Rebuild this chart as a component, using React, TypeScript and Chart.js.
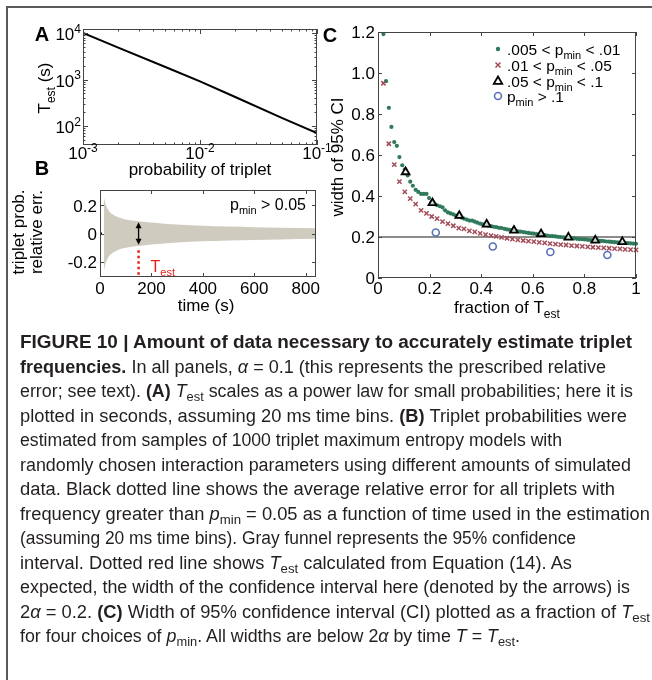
import React, { useEffect, useRef } from "react";
import { Chart, registerables } from "chart.js";
Chart.register(...registerables);

const FONT = '"Liberation Sans", Arial, Helvetica, sans-serif';
const CAPFONT = '"Liberation Sans Narrow", "Liberation Sans", Arial, sans-serif';

// ---------- Panel A data ----------
const probA = [0.001, 0.002, 0.005, 0.01, 0.02, 0.05, 0.1];
const testA = [10000, 4860, 1880, 910, 420, 150, 70];
const aXTicks = [0.001, 0.01, 0.1];
const aXExp = ["-3", "-2", "-1"];
const aYTicks = [100, 1000, 10000];
const aYExp = ["2", "3", "4"];

// ---------- Panel B data ----------
const timeB = [15, 20, 25, 30, 40, 50, 60, 80, 100, 125, 150, 200, 250, 300, 400, 500, 600, 700, 840];
const upperB = [0.26, 0.22, 0.195, 0.175, 0.15, 0.135, 0.125, 0.11, 0.1, 0.093, 0.088, 0.078, 0.07, 0.064, 0.055, 0.049, 0.045, 0.041, 0.037];
const lowerB = [-0.27, -0.225, -0.197, -0.177, -0.152, -0.137, -0.126, -0.111, -0.101, -0.094, -0.089, -0.079, -0.071, -0.065, -0.056, -0.05, -0.046, -0.042, -0.038];
const zeroLineB = [0, 840];
const testTimeB = 150;
const arrowHalfB = 0.08;
const redDotsB = [-0.12, -0.3];
const bXTicks = [0, 200, 400, 600, 800];
const bYTicks = [-0.2, 0, 0.2];
const bYLabels = ["-0.2", "0", "0.2"];

// ---------- Panel C data ----------
const greenX = [0.021, 0.031, 0.042, 0.052, 0.063, 0.073, 0.083, 0.094, 0.104, 0.115, 0.125, 0.135, 0.146, 0.156, 0.167, 0.177, 0.188, 0.198, 0.208, 0.219, 0.229, 0.24, 0.25, 0.26, 0.271, 0.281, 0.292, 0.302, 0.313, 0.323, 0.333, 0.344, 0.354, 0.365, 0.375, 0.385, 0.396, 0.406, 0.417, 0.427, 0.438, 0.448, 0.458, 0.469, 0.479, 0.49, 0.5, 0.51, 0.521, 0.531, 0.542, 0.552, 0.563, 0.573, 0.583, 0.594, 0.604, 0.615, 0.625, 0.635, 0.646, 0.656, 0.667, 0.677, 0.688, 0.698, 0.708, 0.719, 0.729, 0.74, 0.75, 0.76, 0.771, 0.781, 0.792, 0.802, 0.813, 0.823, 0.833, 0.844, 0.854, 0.865, 0.875, 0.885, 0.896, 0.906, 0.917, 0.927, 0.938, 0.948, 0.958, 0.969, 0.979, 0.99, 1.0];
const greenY = [1.19, 0.96, 0.83, 0.737, 0.663, 0.645, 0.59, 0.55, 0.53, 0.5, 0.47, 0.45, 0.43, 0.42, 0.41, 0.41, 0.41, 0.39, 0.37, 0.36, 0.355, 0.35, 0.345, 0.33, 0.32, 0.315, 0.31, 0.305, 0.3, 0.295, 0.29, 0.285, 0.28, 0.28, 0.275, 0.27, 0.265, 0.262, 0.26, 0.255, 0.253, 0.25, 0.248, 0.245, 0.244, 0.24, 0.237, 0.235, 0.233, 0.23, 0.228, 0.226, 0.224, 0.222, 0.22, 0.218, 0.216, 0.214, 0.212, 0.21, 0.209, 0.207, 0.205, 0.204, 0.203, 0.201, 0.2, 0.198, 0.197, 0.195, 0.194, 0.193, 0.191, 0.19, 0.189, 0.188, 0.186, 0.185, 0.184, 0.183, 0.182, 0.181, 0.18, 0.178, 0.177, 0.176, 0.175, 0.174, 0.173, 0.172, 0.171, 0.17, 0.169, 0.168, 0.167];
const redX = [0.021, 0.042, 0.063, 0.083, 0.104, 0.125, 0.146, 0.167, 0.188, 0.208, 0.229, 0.25, 0.271, 0.292, 0.313, 0.333, 0.354, 0.375, 0.396, 0.417, 0.438, 0.458, 0.479, 0.5, 0.521, 0.542, 0.563, 0.583, 0.604, 0.625, 0.646, 0.667, 0.688, 0.708, 0.729, 0.75, 0.771, 0.792, 0.813, 0.833, 0.854, 0.875, 0.896, 0.917, 0.938, 0.958, 0.979, 1.0];
const redY = [0.95, 0.655, 0.553, 0.47, 0.42, 0.387, 0.36, 0.33, 0.315, 0.3, 0.29, 0.275, 0.265, 0.255, 0.243, 0.24, 0.23, 0.225, 0.218, 0.212, 0.207, 0.203, 0.198, 0.194, 0.19, 0.186, 0.183, 0.18, 0.177, 0.174, 0.171, 0.168, 0.165, 0.163, 0.161, 0.158, 0.156, 0.154, 0.152, 0.15, 0.148, 0.147, 0.145, 0.143, 0.142, 0.14, 0.138, 0.137];
const triX = [0.107, 0.211, 0.315, 0.421, 0.527, 0.632, 0.738, 0.842, 0.947];
const triY = [0.517, 0.366, 0.304, 0.262, 0.232, 0.215, 0.198, 0.184, 0.176];
const circX = [0.224, 0.445, 0.668, 0.889];
const circY = [0.222, 0.154, 0.127, 0.112];
const refLineC = 0.2;
const cXTicks = [0, 0.2, 0.4, 0.6, 0.8, 1];
const cXLabels = ["0", "0.2", "0.4", "0.6", "0.8", "1"];
const cYTicks = [0, 0.2, 0.4, 0.6, 0.8, 1.0, 1.2];
const cYLabels = ["0", "0.2", "0.4", "0.6", "0.8", "1.0", "1.2"];
const legendC = [".005 < p|min| < .01", ".01 < p|min| < .05", ".05 < p|min| < .1", "p|min| > .1"];

const GREEN = "#2f7a5a";
const RED = "#a34c58";
const BLUE = "#5b6fb6";
const FUNNEL = "#cfccbf";
const AXIS = "#444";

type Part = { t: string; sub?: boolean; sup?: boolean; b?: boolean; i?: boolean; c?: string };

function partFont(p: Part, size: number) {
  const s = p.sub || p.sup ? Math.round(size * 0.68) : size;
  return `${p.i ? "italic " : ""}${p.b ? "bold " : ""}${s}px ${FONT}`;
}
function richWidth(ctx: CanvasRenderingContext2D, parts: Part[], size: number) {
  let w = 0;
  for (const p of parts) {
    ctx.font = partFont(p, size);
    w += ctx.measureText(p.t).width;
  }
  return w;
}
function drawRich(ctx: CanvasRenderingContext2D, parts: Part[], x: number, cy: number, align: string, size: number, color: string) {
  const w = richWidth(ctx, parts, size);
  let cx = align === "left" ? x : align === "center" ? x - w / 2 : x - w;
  const base = cy + size * 0.36;
  ctx.textAlign = "left";
  ctx.textBaseline = "alphabetic";
  for (const p of parts) {
    ctx.font = partFont(p, size);
    ctx.fillStyle = p.c || color;
    const dy = p.sub ? size * 0.28 : p.sup ? -size * 0.42 : 0;
    ctx.fillText(p.t, cx, base + dy);
    cx += ctx.measureText(p.t).width;
  }
}
function splitSub(s: string): Part[] {
  return s.split("|").map((t, i) => ({ t, sub: i % 2 === 1 }));
}
function drawRotated(ctx: CanvasRenderingContext2D, parts: Part[], x: number, y: number, size: number) {
  ctx.save();
  ctx.translate(x, y);
  ctx.rotate(-Math.PI / 2);
  drawRich(ctx, parts, 0, 0, "center", size, "#000");
  ctx.restore();
}
function drawBox(ctx: CanvasRenderingContext2D, a: any) {
  ctx.strokeStyle = AXIS;
  ctx.lineWidth = 1;
  ctx.strokeRect(Math.round(a.left) + 0.5, Math.round(a.top) + 0.5, Math.round(a.right - a.left) - 1, Math.round(a.bottom - a.top) - 1);
}
function tickX(ctx: CanvasRenderingContext2D, a: any, px: number, len: number) {
  const x = Math.round(px) + 0.5;
  ctx.beginPath();
  ctx.moveTo(x, a.bottom);
  ctx.lineTo(x, a.bottom - len);
  ctx.moveTo(x, a.top);
  ctx.lineTo(x, a.top + len);
  ctx.stroke();
}
function tickY(ctx: CanvasRenderingContext2D, a: any, py: number, len: number) {
  const y = Math.round(py) + 0.5;
  ctx.beginPath();
  ctx.moveTo(a.left, y);
  ctx.lineTo(a.left + len, y);
  ctx.moveTo(a.right, y);
  ctx.lineTo(a.right - len, y);
  ctx.stroke();
}

const baseOpts = (padding: any) => ({
  responsive: false,
  animation: false as const,
  devicePixelRatio: 1,
  events: [] as any[],
  layout: { padding },
  plugins: { legend: { display: false }, tooltip: { enabled: false }, title: { display: false } },
});

const H = 320;

function cfgA(): any {
  return {
    type: "line",
    data: {
      datasets: [
        {
          data: probA.map((p, i) => ({ x: p, y: testA[i] })),
          borderColor: "#000",
          borderWidth: 2,
          pointRadius: 0,
          fill: false,
        },
      ],
    },
    options: {
      ...baseOpts({ left: 83, top: 29, right: 652 - 317, bottom: H - 145 }),
      scales: {
        x: { type: "logarithmic", min: 0.001, max: 0.1, display: false },
        y: { type: "logarithmic", min: 39, max: 12200, display: false },
      },
    },
    plugins: [
      {
        id: "axesA",
        afterDraw(chart: any) {
          const { ctx, chartArea: a, scales } = chart;
          ctx.save();
          drawBox(ctx, a);
          for (let d = 0.001; d < 0.1; d *= 10) {
            for (let m = 2; m <= 9; m++) tickX(ctx, a, scales.x.getPixelForValue(d * m), 2.5);
          }
          aXTicks.forEach((v) => tickX(ctx, a, scales.x.getPixelForValue(v), 5));
          for (let d = 10; d <= 10000; d *= 10) {
            for (let m = 2; m <= 9; m++) {
              const v = d * m;
              if (v > 39 && v < 12200) tickY(ctx, a, scales.y.getPixelForValue(v), 2.5);
            }
          }
          aYTicks.forEach((v) => tickY(ctx, a, scales.y.getPixelForValue(v), 5));
          aXTicks.forEach((v, i) =>
            drawRich(ctx, [{ t: "10" }, { t: aXExp[i], sup: true }], scales.x.getPixelForValue(v), a.bottom + 8, "center", 17, "#000")
          );
          aYTicks.forEach((v, i) =>
            drawRich(ctx, [{ t: "10" }, { t: aYExp[i], sup: true }], a.left - 2, scales.y.getPixelForValue(v) + 1, "right", 17, "#000")
          );
          drawRich(ctx, [{ t: "probability of triplet" }], (a.left + a.right) / 2, 169, "center", 17, "#000");
          drawRotated(ctx, [{ t: "T" }, { t: "est", sub: true }, { t: " (s)" }], 44, 88, 17);
          drawRich(ctx, [{ t: "A", b: true }], 42, 34, "center", 20, "#000");
          drawRich(ctx, [{ t: "B", b: true }], 42, 168, "center", 20, "#000");
          ctx.restore();
        },
      },
    ],
  };
}

function cfgB(): any {
  return {
    type: "line",
    data: {
      datasets: [
        {
          data: timeB.map((t, i) => ({ x: t, y: upperB[i] })),
          borderWidth: 0,
          borderColor: FUNNEL,
          pointRadius: 0,
          fill: false,
          cubicInterpolationMode: "monotone",
        },
        {
          data: timeB.map((t, i) => ({ x: t, y: lowerB[i] })),
          borderWidth: 0,
          borderColor: FUNNEL,
          backgroundColor: FUNNEL,
          pointRadius: 0,
          fill: "-1",
          cubicInterpolationMode: "monotone",
        },
        {
          data: zeroLineB.map((t) => ({ x: t, y: 0 })),
          borderColor: "#000",
          borderWidth: 2,
          borderDash: [2, 2.5],
          pointRadius: 0,
          fill: false,
        },
        {
          data: redDotsB.map((v) => ({ x: testTimeB, y: v })),
          borderColor: "#e8201c",
          borderWidth: 2.5,
          borderDash: [2.5, 3],
          pointRadius: 0,
          fill: false,
        },
      ],
    },
    options: {
      ...baseOpts({ left: 100, top: 190, right: 652 - 316, bottom: H - 277 }),
      scales: {
        x: { type: "linear", min: 0, max: 840, display: false },
        y: { type: "linear", min: -0.31, max: 0.31, display: false },
      },
    },
    plugins: [
      {
        id: "axesB",
        afterDraw(chart: any) {
          const { ctx, chartArea: a, scales } = chart;
          ctx.save();
          drawBox(ctx, a);
          bXTicks.forEach((v) => tickX(ctx, a, scales.x.getPixelForValue(v), 4));
          bYTicks.forEach((v) => tickY(ctx, a, scales.y.getPixelForValue(v), 4));
          bXTicks.forEach((v) => drawRich(ctx, [{ t: String(v) }], scales.x.getPixelForValue(v), a.bottom + 11, "center", 17, "#000"));
          bYTicks.forEach((v, i) => drawRich(ctx, [{ t: bYLabels[i] }], a.left - 3, scales.y.getPixelForValue(v), "right", 17, "#000"));
          const ax = scales.x.getPixelForValue(testTimeB);
          const y1 = scales.y.getPixelForValue(arrowHalfB);
          const y2 = scales.y.getPixelForValue(-arrowHalfB);
          ctx.strokeStyle = "#000";
          ctx.fillStyle = "#000";
          ctx.lineWidth = 1.3;
          ctx.beginPath();
          ctx.moveTo(ax, y1 + 3);
          ctx.lineTo(ax, y2 - 3);
          ctx.stroke();
          ctx.beginPath();
          ctx.moveTo(ax, y1);
          ctx.lineTo(ax - 3, y1 + 6);
          ctx.lineTo(ax + 3, y1 + 6);
          ctx.closePath();
          ctx.fill();
          ctx.beginPath();
          ctx.moveTo(ax, y2);
          ctx.lineTo(ax - 3, y2 - 6);
          ctx.lineTo(ax + 3, y2 - 6);
          ctx.closePath();
          ctx.fill();
          drawRich(ctx, [{ t: "T" }, { t: "est", sub: true }], ax + 12, 266, "left", 16, "#e8201c");
          drawRich(ctx, [{ t: "p" }, { t: "min", sub: true }, { t: " > 0.05" }], 230, 204, "left", 16, "#000");
          drawRich(ctx, [{ t: "time (s)" }], 206, 305, "center", 17, "#000");
          drawRotated(ctx, [{ t: "triplet prob." }], 18, 232, 17);
          drawRotated(ctx, [{ t: "relative err." }], 36, 232, 17);
          ctx.restore();
        },
      },
    ],
  };
}

function cfgC(): any {
  return {
    type: "scatter",
    data: {
      datasets: [
        {
          data: circX.map((x, i) => ({ x, y: circY[i] })),
          pointStyle: "circle",
          pointRadius: 3.5,
          borderColor: BLUE,
          backgroundColor: "rgba(0,0,0,0)",
          borderWidth: 1.6,
          clip: 8,
        },
        {
          data: triX.map((x, i) => ({ x, y: triY[i] })),
          pointStyle: "triangle",
          pointRadius: 4.5,
          borderColor: "#000",
          backgroundColor: "rgba(255,255,255,0.75)",
          borderWidth: 1.8,
          clip: 8,
        },
        {
          data: redX.map((x, i) => ({ x, y: redY[i] })),
          pointStyle: "crossRot",
          pointRadius: 3,
          borderColor: RED,
          borderWidth: 1.5,
          clip: 8,
        },
        {
          data: greenX.map((x, i) => ({ x, y: greenY[i] })),
          pointStyle: "circle",
          pointRadius: 2.1,
          backgroundColor: GREEN,
          borderColor: GREEN,
          borderWidth: 0,
          clip: 8,
        },
        {
          type: "line",
          data: [
            { x: 0, y: refLineC },
            { x: 1, y: refLineC },
          ],
          borderColor: "#666",
          borderWidth: 1.5,
          pointRadius: 0,
          fill: false,
        },
      ],
    },
    options: {
      ...baseOpts({ left: 378, top: 32, right: 652 - 636, bottom: H - 278 }),
      scales: {
        x: { type: "linear", min: 0, max: 1, display: false },
        y: { type: "linear", min: 0, max: 1.2, display: false },
      },
    },
    plugins: [
      {
        id: "axesC",
        afterDraw(chart: any) {
          const { ctx, chartArea: a, scales } = chart;
          ctx.save();
          drawBox(ctx, a);
          cXTicks.forEach((v) => tickX(ctx, a, scales.x.getPixelForValue(v), 4));
          cYTicks.forEach((v) => tickY(ctx, a, scales.y.getPixelForValue(v), 4));
          cXTicks.forEach((v, i) => drawRich(ctx, [{ t: cXLabels[i] }], scales.x.getPixelForValue(v), a.bottom + 10, "center", 17, "#000"));
          cYTicks.forEach((v, i) => drawRich(ctx, [{ t: cYLabels[i] }], a.left - 3, scales.y.getPixelForValue(v), "right", 17, "#000"));
          drawRich(ctx, [{ t: "fraction of T" }, { t: "est", sub: true }], (a.left + a.right) / 2, 307, "center", 17, "#000");
          drawRotated(ctx, [{ t: "width of 95% CI" }], 337, 157, 17);
          drawRich(ctx, [{ t: "C", b: true }], 330, 35, "center", 20, "#000");
          // legend
          const mx = 498;
          const rows = [49, 65, 81, 96];
          ctx.fillStyle = GREEN;
          ctx.beginPath();
          ctx.arc(mx, rows[0], 2.2, 0, Math.PI * 2);
          ctx.fill();
          ctx.strokeStyle = RED;
          ctx.lineWidth = 1.5;
          ctx.beginPath();
          ctx.moveTo(mx - 2.5, rows[1] - 2.5);
          ctx.lineTo(mx + 2.5, rows[1] + 2.5);
          ctx.moveTo(mx + 2.5, rows[1] - 2.5);
          ctx.lineTo(mx - 2.5, rows[1] + 2.5);
          ctx.stroke();
          ctx.strokeStyle = "#000";
          ctx.lineWidth = 1.8;
          ctx.beginPath();
          ctx.moveTo(mx, rows[2] - 4.5);
          ctx.lineTo(mx + 4.2, rows[2] + 2.8);
          ctx.lineTo(mx - 4.2, rows[2] + 2.8);
          ctx.closePath();
          ctx.stroke();
          ctx.strokeStyle = BLUE;
          ctx.lineWidth = 1.6;
          ctx.beginPath();
          ctx.arc(mx, rows[3], 3.5, 0, Math.PI * 2);
          ctx.stroke();
          legendC.forEach((s, i) => drawRich(ctx, splitSub(s), 507, rows[i], "left", 15.5, "#000"));
          ctx.restore();
        },
      },
    ],
  };
}

// ---------- caption ----------
type Seg = { t: string; b?: boolean; i?: boolean; sub?: boolean };
const captionLines: { segs: Seg[]; end: number }[] = [
  { segs: [{ t: "FIGURE 10 | Amount of data necessary to accurately estimate triplet", b: true }], end: 632 },
  { segs: [{ t: "frequencies.", b: true }, { t: " In all panels, " }, { t: "α", i: true }, { t: " = 0.1 (this represents the prescribed relative" }], end: 606 },
  { segs: [{ t: "error; see text). " }, { t: "(A)", b: true }, { t: " " }, { t: "T", i: true }, { t: "est", sub: true }, { t: " scales as a power law for small probabilities; here it is" }], end: 633 },
  { segs: [{ t: "plotted in seconds, assuming 20 ms time bins. " }, { t: "(B)", b: true }, { t: " Triplet probabilities were" }], end: 627 },
  { segs: [{ t: "estimated from samples of 1000 triplet maximum entropy models with" }], end: 562 },
  { segs: [{ t: "randomly chosen interaction parameters using different amounts of simulated" }], end: 631 },
  { segs: [{ t: "data. Black dotted line shows the average relative error for all triplets with" }], end: 615 },
  { segs: [{ t: "frequency greater than " }, { t: "p", i: true }, { t: "min", sub: true }, { t: " = 0.05 as a function of time used in the estimation" }], end: 650 },
  { segs: [{ t: "(assuming 20 ms time bins). Gray funnel represents the 95% confidence" }], end: 576 },
  { segs: [{ t: "interval. Dotted red line shows " }, { t: "T", i: true }, { t: "est", sub: true }, { t: " calculated from Equation (14). As" }], end: 572 },
  { segs: [{ t: "expected, the width of the confidence interval here (denoted by the arrows) is" }], end: 630 },
  { segs: [{ t: "2" }, { t: "α", i: true }, { t: " = 0.2. " }, { t: "(C)", b: true }, { t: " Width of 95% confidence interval (CI) plotted as a fraction of " }, { t: "T", i: true }, { t: "est", sub: true }], end: 650 },
  { segs: [{ t: "for four choices of " }, { t: "p", i: true }, { t: "min", sub: true }, { t: ". All widths are below 2" }, { t: "α", i: true }, { t: " by time " }, { t: "T", i: true }, { t: " = " }, { t: "T", i: true }, { t: "est", sub: true }, { t: "." }], end: 520 },
];

function Caption() {
  return (
    <svg width={652} height={680} style={{ position: "absolute", left: 0, top: 0 }}>
      {captionLines.map((ln, k) => (
        <text
          key={k}
          x={20}
          y={348 + k * 24.5}
          fontFamily={CAPFONT}
          fontSize={18}
          fill="#231f20"
          textLength={ln.end - 20}
          lengthAdjust="spacingAndGlyphs"
          style={{ whiteSpace: "pre" }}
        >
          {ln.segs.map((s, j) => (
            <tspan
              key={j}
              fontWeight={s.b ? "bold" : "normal"}
              fontStyle={s.i ? "italic" : "normal"}
              fontSize={s.sub ? 13 : 18}
              baselineShift={s.sub ? "-4" : "0"}
            >
              {s.t}
            </tspan>
          ))}
        </text>
      ))}
    </svg>
  );
}

export default function App() {
  const refA = useRef<HTMLCanvasElement>(null);
  const refB = useRef<HTMLCanvasElement>(null);
  const refC = useRef<HTMLCanvasElement>(null);
  useEffect(() => {
    const a = new Chart(refA.current as HTMLCanvasElement, cfgA());
    const b = new Chart(refB.current as HTMLCanvasElement, cfgB());
    const c = new Chart(refC.current as HTMLCanvasElement, cfgC());
    return () => {
      a.destroy();
      b.destroy();
      c.destroy();
    };
  }, []);
  const cs: React.CSSProperties = { position: "absolute", left: 0, top: 0, width: 652, height: H };
  return (
    <div style={{ position: "absolute", left: 0, top: 0, width: 652, height: 680, background: "#fff", overflow: "hidden" }}>
      <div
        style={{
          position: "absolute",
          left: 6,
          top: 6,
          width: 660,
          height: 690,
          borderTop: "2px solid #5a5a5a",
          borderLeft: "2px solid #5a5a5a",
        }}
      />
      <canvas ref={refA} width={652} height={H} style={cs} />
      <canvas ref={refB} width={652} height={H} style={cs} />
      <canvas ref={refC} width={652} height={H} style={cs} />
      <Caption />
    </div>
  );
}
